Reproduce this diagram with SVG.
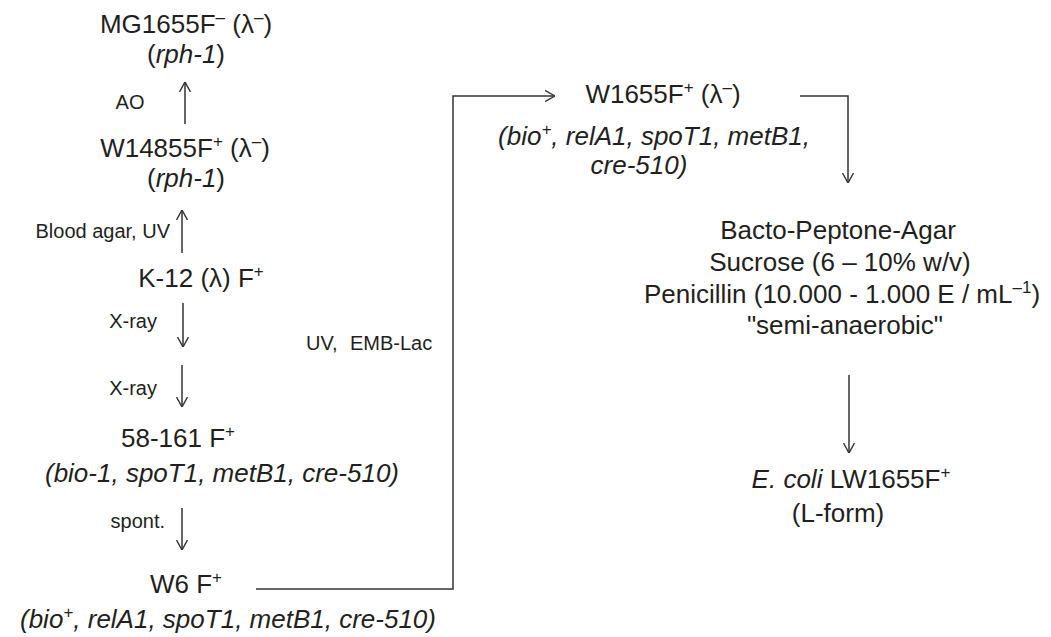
<svg xmlns="http://www.w3.org/2000/svg" width="1051" height="637" viewBox="0 0 1051 637">
  <style>
    text { font-family: "Liberation Sans", Arial, Helvetica, sans-serif; fill: #231f20; }
    .main { font-size: 26px; text-anchor: middle; }
    .it { font-style: italic; }
    .lbl { font-size: 20px; }
    .sup { font-size: 17px; }
    .conn { fill: none; stroke: #333; stroke-width: 1.5; }
  </style>
  <defs>
    <marker id="arr" viewBox="0 0 10 12" refX="10" refY="6" markerWidth="10" markerHeight="12" markerUnits="userSpaceOnUse" orient="auto">
      <path d="M0,0.5 L10,6 L0,11.5" fill="none" stroke="#333" stroke-width="1.4"/>
    </marker>
  </defs>
  <rect width="1051" height="637" fill="#ffffff"/>

  <g id="connectors">
    <line class="conn" x1="185" y1="124" x2="185" y2="82" marker-end="url(#arr)"/>
    <line class="conn" x1="182" y1="253" x2="182" y2="210" marker-end="url(#arr)"/>
    <line class="conn" x1="183" y1="303" x2="183" y2="347" marker-end="url(#arr)"/>
    <line class="conn" x1="182" y1="365" x2="182" y2="407" marker-end="url(#arr)"/>
    <line class="conn" x1="182" y1="508" x2="182" y2="550" marker-end="url(#arr)"/>
    <polyline class="conn" points="256,589 453,589 453,96 555,96" marker-end="url(#arr)"/>
    <polyline class="conn" points="800,96 848,96 848,183" marker-end="url(#arr)"/>
    <line class="conn" x1="849" y1="375" x2="849" y2="453" marker-end="url(#arr)"/>
  </g>

  <g id="edge-labels">
    <text class="lbl" x="130" y="109" text-anchor="middle">AO</text>
    <text class="lbl" x="170" y="238" text-anchor="end">Blood agar, UV</text>
    <text class="lbl" x="157" y="328" text-anchor="end">X-ray</text>
    <text class="lbl" x="157" y="395" text-anchor="end">X-ray</text>
    <text class="lbl" x="165" y="528" text-anchor="end">spont.</text>
    <text class="lbl" y="350"><tspan x="306">UV,</tspan><tspan x="350">EMB-Lac</tspan></text>
  </g>

  <g id="n-mg1655">
    <text class="main" x="186" y="33">MG1655F<tspan class="sup" dy="-10">–</tspan><tspan dy="10"> (λ</tspan><tspan class="sup" dy="-10">–</tspan><tspan dy="10">)</tspan></text>
    <text class="main" x="186" y="63">(<tspan class="it">rph-1</tspan>)</text>
  </g>

  <g id="n-w14855">
    <text class="main" x="185" y="157">W14855F<tspan class="sup" dy="-10">+</tspan><tspan dy="10"> (λ</tspan><tspan class="sup" dy="-10">–</tspan><tspan dy="10">)</tspan></text>
    <text class="main" x="186" y="187">(<tspan class="it">rph-1</tspan>)</text>
  </g>

  <g id="n-k12">
    <text class="main" x="201" y="287">K-12 (λ) F<tspan class="sup" dy="-10">+</tspan></text>
  </g>

  <g id="n-58161">
    <text class="main" x="178" y="447">58-161 F<tspan class="sup" dy="-10">+</tspan></text>
    <text class="main it" x="222" y="482">(bio-1, spoT1, metB1, cre-510)</text>
  </g>

  <g id="n-w6">
    <text class="main" x="186" y="593">W6 F<tspan class="sup" dy="-10">+</tspan></text>
    <text class="main it" x="228" y="628">(bio<tspan class="sup" dy="-10">+</tspan><tspan dy="10">, relA1, spoT1, metB1, cre-510)</tspan></text>
  </g>

  <g id="n-w1655">
    <text class="main" x="663" y="103">W1655F<tspan class="sup" dy="-10">+</tspan><tspan dy="10"> (λ</tspan><tspan class="sup" dy="-10">–</tspan><tspan dy="10">)</tspan></text>
    <text class="main it" x="654" y="145">(bio<tspan class="sup" dy="-10">+</tspan><tspan dy="10">, relA1, spoT1, metB1,</tspan></text>
    <text class="main it" x="639" y="174">cre-510)</text>
  </g>

  <g id="n-medium">
    <text class="main" x="838" y="239">Bacto-Peptone-Agar</text>
    <text class="main" x="840" y="271">Sucrose (6 – 10% w/v)</text>
    <text class="main" x="842" y="303">Penicillin (10.000 - 1.000 E / mL<tspan class="sup" dy="-10">–1</tspan><tspan dy="10">)</tspan></text>
    <text class="main" x="845" y="334">"semi-anaerobic"</text>
  </g>

  <g id="n-lform">
    <text class="main" x="851" y="488"><tspan class="it">E. coli</tspan> LW1655F<tspan class="sup" dy="-10">+</tspan></text>
    <text class="main" x="838" y="522">(L-form)</text>
  </g>
</svg>
